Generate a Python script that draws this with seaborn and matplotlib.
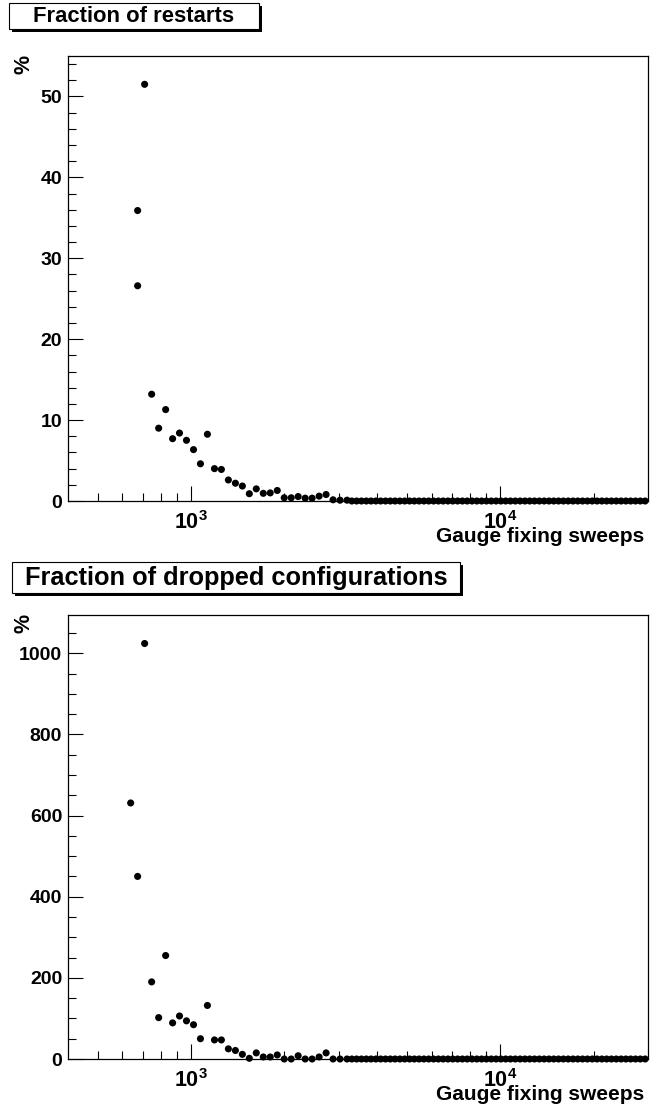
import matplotlib
matplotlib.use("Agg")
import matplotlib.pyplot as plt
import seaborn as sns
import pandas as pd
from matplotlib.patches import Rectangle
from matplotlib.ticker import FixedLocator, FixedFormatter, NullFormatter, MultipleLocator

# ---------------- data ----------------
sweeps = [639, 673, 709, 747, 787, 829, 873, 919, 968, 1020,
          1074, 1131, 1192, 1255, 1322, 1393, 1467, 1545, 1627, 1714,
          1805, 1902, 2003, 2110, 2222, 2341, 2465, 2597, 2735, 2881,
          3034, 3196, 3312, 3433, 3558, 3688, 3822, 3961, 4105, 4255,
          4410, 4570, 4737, 4909, 5088, 5273, 5465, 5664, 5870, 6084,
          6306, 6535, 6773, 7020, 7276, 7541, 7815, 8100, 8395, 8701,
          9018, 9346, 9687, 10040, 10405, 10784, 11177, 11584, 12006, 12443,
          12896, 13366, 13853, 14357, 14880, 15422, 15984, 16566, 17169, 17795,
          18443, 19114, 19810, 20532, 21280, 22055, 22858, 23691, 24554, 25448,
          26375, 27335, 28331, 29363]

restart_sweeps = [673, 673, 709, 747, 787, 829, 873, 919, 968, 1020,
                  1074, 1131, 1192, 1255, 1322, 1393, 1467, 1545, 1627, 1714,
                  1805, 1902, 2003, 2110, 2222, 2341, 2465, 2597, 2735, 2881,
                  3034, 3196, 3312, 3433, 3558, 3688, 3822, 3961, 4105, 4255,
                  4410, 4570, 4737, 4909, 5088, 5273, 5465, 5664, 5870, 6084,
                  6306, 6535, 6773, 7020, 7276, 7541, 7815, 8100, 8395, 8701,
                  9018, 9346, 9687, 10040, 10405, 10784, 11177, 11584, 12006, 12443,
                  12896, 13366, 13853, 14357, 14880, 15422, 15984, 16566, 17169, 17795,
                  18443, 19114, 19810, 20532, 21280, 22055, 22858, 23691, 24554, 25448,
                  26375, 27335, 28331, 29363]

restarts = [35.9, 26.6, 51.5, 13.2, 9.0, 11.3, 7.7, 8.4, 7.5, 6.35,
            4.6, 8.25, 4.0, 3.9, 2.6, 2.2, 1.85, 0.9, 1.5, 0.95,
            1.0, 1.3, 0.4, 0.4, 0.55, 0.35, 0.35, 0.6, 0.8, 0.15,
            0.1, 0.1, 0, 0, 0, 0, 0, 0, 0, 0,
            0, 0, 0, 0, 0, 0, 0, 0, 0, 0,
            0, 0, 0, 0, 0, 0, 0, 0, 0, 0,
            0, 0, 0, 0, 0, 0, 0, 0, 0, 0,
            0, 0, 0, 0, 0, 0, 0, 0, 0, 0,
            0, 0, 0, 0, 0, 0, 0, 0, 0, 0,
            0, 0, 0, 0]

dropped = [631, 450, 1024, 190, 102, 255, 89, 106, 94, 84.5,
           50, 132, 47, 47, 25, 21, 11.5, 1.7, 15, 5,
           5, 10, 0, 0, 8, 0, 0, 5, 15, 0,
           0, 0, 0, 0, 0, 0, 0, 0, 0, 0,
           0, 0, 0, 0, 0, 0, 0, 0, 0, 0,
           0, 0, 0, 0, 0, 0, 0, 0, 0, 0,
           0, 0, 0, 0, 0, 0, 0, 0, 0, 0,
           0, 0, 0, 0, 0, 0, 0, 0, 0, 0,
           0, 0, 0, 0, 0, 0, 0, 0, 0, 0,
           0, 0, 0, 0]

titles = ["Fraction of restarts", "Fraction of dropped configurations"]
x_label = "Gauge fixing sweeps"
y_label = "%"
x_major = [1e3, 1e4]
x_major_labels = [r"$\mathbf{10^{3}}$", r"$\mathbf{10^{4}}$"]
x_minor = [500, 600, 700, 800, 900, 2000, 3000, 4000, 5000, 6000, 7000, 8000, 9000, 20000]

df_top = pd.DataFrame({"sweeps": restart_sweeps, "value": restarts})
df_bot = pd.DataFrame({"sweeps": sweeps, "value": dropped})

# ---------------- style ----------------
sns.set_style("white")
plt.rcParams["font.family"] = ["Liberation Sans", "DejaVu Sans"]
plt.rcParams["font.weight"] = "bold"
plt.rcParams["text.color"] = "black"
plt.rcParams["axes.labelcolor"] = "black"
plt.rcParams["xtick.color"] = "black"
plt.rcParams["ytick.color"] = "black"
plt.rcParams["mathtext.fontset"] = "custom"
plt.rcParams["mathtext.rm"] = "Liberation Sans:bold"
plt.rcParams["mathtext.bf"] = "Liberation Sans:bold"
plt.rcParams["mathtext.it"] = "Liberation Sans:bold"

W, H = 662, 1104
fig = plt.figure(figsize=(W / 100, H / 100), dpi=100)
fig.patch.set_facecolor("white")


def px_axes(left, top, right, bottom):
    return fig.add_axes([left / W, 1 - bottom / H, (right - left) / W, (bottom - top) / H])


def title_box(x0, y0, x1, y1, text, size):
    sh = 3
    fig.add_artist(Rectangle((((x0 + sh) / W), 1 - (y1 + sh) / H), (x1 - x0) / W, (y1 - y0) / H,
                             transform=fig.transFigure, facecolor="black", edgecolor="none"))
    fig.add_artist(Rectangle((x0 / W, 1 - y1 / H), (x1 - x0) / W, (y1 - y0) / H,
                             transform=fig.transFigure, facecolor="white", edgecolor="black", linewidth=0.8))
    fig.text((x0 + x1) / 2 / W, 1 - (y0 + y1 + 1) / 2 / H, text, ha="center", va="center",
             fontsize=size, fontweight="bold", color="black")


def style_axes(ax, ymax, ymajor, yminor, ylab_y):
    ax.set_xscale("log")
    ax.set_xlim(400, 30000)
    ax.set_ylim(0, ymax)
    ax.xaxis.set_major_locator(FixedLocator(x_major))
    ax.xaxis.set_major_formatter(FixedFormatter(x_major_labels))
    ax.xaxis.set_minor_locator(FixedLocator(x_minor))
    ax.xaxis.set_minor_formatter(NullFormatter())
    ax.yaxis.set_major_locator(MultipleLocator(ymajor))
    ax.yaxis.set_minor_locator(MultipleLocator(yminor))
    ax.tick_params(axis="both", which="major", direction="in", length=11, width=0.8,
                   color="black", labelcolor="black", bottom=True, left=True,
                   top=False, right=False)
    ax.tick_params(axis="both", which="minor", direction="in", length=5.8, width=0.8,
                   color="black", bottom=True, left=True, top=False, right=False)
    ax.tick_params(axis="y", which="major", pad=4, labelsize=14)
    ax.tick_params(axis="x", which="major", pad=7, labelsize=15.5)
    for sp in ax.spines.values():
        sp.set_visible(True)
        sp.set_color("black")
        sp.set_linewidth(0.9)
    ax.set_xlabel(x_label, fontsize=15, fontweight="bold", ha="right", va="top")
    ax.xaxis.set_label_coords(0.993, -0.058)
    ax.set_ylabel(y_label, fontsize=15.5, fontweight="bold")
    ax.yaxis.set_label_coords(-0.058, ylab_y)
    ax.grid(False)


ax1 = px_axes(67.7, 56, 648, 501)
sns.scatterplot(data=df_top, x="sweeps", y="value", ax=ax1, color="black", s=26,
                edgecolor="none", linewidth=0, clip_on=False, legend=False, zorder=5)
style_axes(ax1, 55, 10, 2, 0.982)

ax2 = px_axes(67.7, 614.7, 648, 1059)
sns.scatterplot(data=df_bot, x="sweeps", y="value", ax=ax2, color="black", s=26,
                edgecolor="none", linewidth=0, clip_on=False, legend=False, zorder=5)
style_axes(ax2, 1095, 200, 50, 0.981)

title_box(9, 3, 259, 29, titles[0], 15.8)
title_box(12, 562, 460, 593, titles[1], 18.3)

fig.savefig("out.png", dpi=100)
